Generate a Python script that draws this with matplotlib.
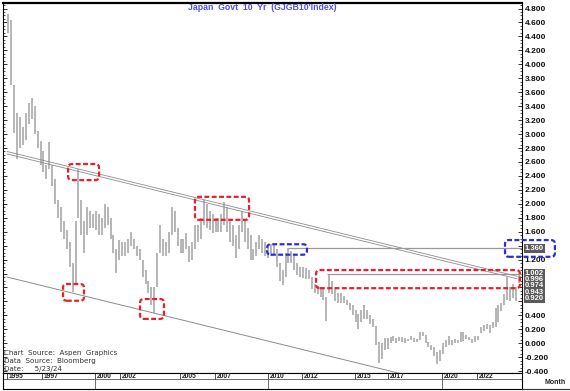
import numpy as np
import matplotlib
matplotlib.use("Agg")
import matplotlib.pyplot as plt
import matplotlib.transforms as mtransforms
from matplotlib.patches import FancyBboxPatch
from matplotlib.lines import Line2D
from matplotlib.ticker import MultipleLocator, FuncFormatter

plt.rcParams['font.family'] = ['Liberation Sans', 'DejaVu Sans']

# Japan 10y yield, bi-monthly bars (Jan-Feb, Mar-Apr, May-Jun, Jul-Aug, Sep-Oct, Nov-Dec)
first_year = 1995
highs = [
    4.72, 4.64, 3.70, 3.30, 3.25, 3.10,   # 1995
    3.30, 3.45, 3.52, 3.40, 3.05, 2.90,   # 1996
    2.75, 2.55, 2.88, 2.55, 2.35, 2.05,   # 1997
    1.95, 1.75, 1.62, 1.45, 1.15, 1.75,   # 1998
    2.50, 2.05, 1.75, 1.95, 1.90, 1.85,   # 1999
    1.90, 1.85, 1.80, 1.99, 1.95, 1.80,   # 2000
    1.55, 1.35, 1.48, 1.45, 1.45, 1.50,   # 2001
    1.59, 1.50, 1.40, 1.35, 1.20, 1.05,   # 2002
    0.90, 0.80, 0.80, 1.30, 1.70, 1.50,   # 2003
    1.45, 1.60, 1.96, 1.90, 1.65, 1.50,   # 2004
    1.50, 1.58, 1.40, 1.45, 1.70, 1.70,   # 2005
    1.80, 2.06, 2.00, 1.90, 1.85, 1.80,   # 2006
    1.80, 1.85, 2.02, 1.95, 1.75, 1.70,   # 2007
    1.55, 1.70, 1.90, 1.75, 1.65, 1.55,   # 2008
    1.35, 1.45, 1.55, 1.50, 1.45, 1.40,   # 2009
    1.42, 1.43, 1.35, 1.15, 1.05, 1.30,   # 2010
    1.37, 1.33, 1.25, 1.15, 1.10, 1.10,   # 2011
    1.08, 1.05, 0.95, 0.85, 0.82, 0.80,   # 2012
    0.80, 0.66, 1.00, 0.90, 0.78, 0.72,   # 2013
    0.72, 0.68, 0.62, 0.58, 0.55, 0.48,   # 2014
    0.42, 0.48, 0.55, 0.48, 0.40, 0.35,   # 2015
    0.25, 0.02, 0.00, 0.08, 0.07, 0.09,   # 2016
    0.10, 0.08, 0.09, 0.09, 0.07, 0.06,   # 2017
    0.10, 0.07, 0.06, 0.16, 0.16, 0.12,   # 2018
    0.02, -0.02, -0.05, -0.12, -0.10, 0.00,   # 2019
    0.05, 0.10, 0.05, 0.06, 0.05, 0.16,   # 2020
    0.16, 0.12, 0.09, 0.06, 0.10, 0.10,   # 2021
    0.24, 0.26, 0.27, 0.26, 0.30, 0.50,   # 2022
    0.55, 0.58, 0.70, 0.95, 0.80, 0.85,   # 2023
    0.80, 1.00,                           # 2024
]
lows = [
    4.45, 3.70, 3.02, 2.64, 2.80, 2.85,   # 1995
    2.92, 3.15, 3.22, 3.00, 2.80, 2.55,   # 1996
    2.45, 2.35, 2.50, 2.25, 2.00, 1.80,   # 1997
    1.60, 1.50, 1.35, 1.10, 0.73, 0.85,   # 1998
    1.80, 1.55, 1.30, 1.55, 1.65, 1.65,   # 1999
    1.62, 1.55, 1.55, 1.65, 1.70, 1.50,   # 2000
    1.30, 1.01, 1.20, 1.25, 1.25, 1.30,   # 2001
    1.40, 1.35, 1.25, 1.20, 0.95, 0.85,   # 2002
    0.72, 0.55, 0.43, 0.80, 1.30, 1.25,   # 2003
    1.25, 1.30, 1.55, 1.60, 1.40, 1.30,   # 2004
    1.30, 1.35, 1.17, 1.20, 1.35, 1.45,   # 2005
    1.50, 1.70, 1.65, 1.62, 1.58, 1.60,   # 2006
    1.60, 1.60, 1.70, 1.60, 1.45, 1.40,   # 2007
    1.23, 1.35, 1.60, 1.45, 1.35, 1.20,   # 2008
    1.20, 1.25, 1.35, 1.30, 1.25, 1.22,   # 2009
    1.25, 1.28, 1.10, 0.90, 0.83, 0.95,   # 2010
    1.15, 1.15, 1.05, 0.98, 0.95, 0.93,   # 2011
    0.92, 0.92, 0.78, 0.72, 0.70, 0.66,   # 2012
    0.62, 0.32, 0.72, 0.70, 0.60, 0.58,   # 2013
    0.58, 0.58, 0.55, 0.48, 0.40, 0.30,   # 2014
    0.20, 0.30, 0.35, 0.35, 0.28, 0.24,   # 2015
    -0.02, -0.28, -0.22, -0.10, -0.08, 0.00,  # 2016
    0.03, 0.00, 0.03, 0.02, 0.01, 0.03,   # 2017
    0.04, 0.02, 0.02, 0.05, 0.10, 0.00,   # 2018
    -0.05, -0.10, -0.18, -0.29, -0.25, -0.15,  # 2019
    -0.05, -0.03, -0.02, 0.00, 0.00, 0.02,  # 2020
    0.03, 0.06, 0.04, 0.00, 0.02, 0.05,   # 2021
    0.15, 0.17, 0.20, 0.15, 0.22, 0.24,   # 2022
    0.30, 0.46, 0.55, 0.62, 0.60, 0.65,   # 2023
    0.60, 0.86,                           # 2024
]

# year labels of the date strip (Aspen puts them a bit irregularly)
year_labels = ['1995', '1997', '2000', '2002', '2005', '2007',
               '2010', '2012', '2015', '2017', '2020', '2022']
year_label_pos = [1995.0, 1997.0, 2000.03, 2001.46, 2004.89, 2006.89,
                  2009.91, 2011.86, 2014.89, 2016.77, 2019.86, 2021.86]
decade_pos = [2000.03, 2009.91, 2019.86]

# trendlines (year, yield)
upper_trend = [(1995.0, 2.75), (2024.15, 0.96)]
lower_trend = [(1995.0, 0.95), (2024.4, -0.86)]
level_lines = [(2011.06, 1.36), (2013.3, 0.995)]   # (start, level)

# highlighted areas (x0, x1, y0, y1)
red_boxes = [(1998.2, 1999.4, 0.61, 0.85),
             (1998.49, 2000.26, 2.34, 2.57),
             (2002.6, 2003.97, 0.35, 0.635),
             (2005.74, 2008.83, 1.77, 2.10),
             (2012.66, 2024.31, 0.79, 1.05)]
blue_boxes = [(2009.86, 2012.14, 1.27, 1.42),
              (2023.46, 2026.31, 1.24, 1.48)]

last_labels = ['1.002', '0.996', '0.974', '0.943', '0.920']
blue_label = '1.360'
hidden_ticks = [1.4, 1.0, 0.8, 0.6]

# ---------------------------------------------------------------
W, H = 570, 391
fig = plt.figure(figsize=(W / 100, H / 100), dpi=100)


def fx(px):
    return px / W


def fy(py):
    return 1 - py / H


ax = fig.add_axes([fx(3), fy(373), fx(522) - fx(3), fy(3) - fy(373)])
ax.set_xlim(1994.77, 2024.43)
ax.set_ylim(-0.426, 4.879)

t = first_year + (np.arange(len(highs)) + 0.5) / 6.0
ax.vlines(t, lows, highs, color='#b0b0b0', lw=1.3, zorder=2)

# trendlines
(x0, y0), (x1, y1) = upper_trend
ax.plot([x0, x1], [y0, y1], color='#8c8c8c', lw=0.6, zorder=3)
ax.plot([x0, x1], [y0 - 0.035, y1 - 0.035], color='#8c8c8c', lw=0.6, zorder=3)
(x0, y0), (x1, y1) = lower_trend
ax.plot([x0, x1], [y0, y1], color='#8c8c8c', lw=0.7, zorder=3)
for start, lvl in level_lines:
    ax.hlines(lvl, start, 2024.43, color='#9a9a9a', lw=0.9, zorder=3)

# dashed rounded boxes
asp = 17.5 / 69.75
for boxes, col in [(red_boxes, '#e8202a'), (blue_boxes, '#2b2be6')]:
    for bx0, bx1, by0, by1 in boxes:
        p = FancyBboxPatch((bx0, by0), bx1 - bx0, by1 - by0,
                           boxstyle="round,pad=0,rounding_size=0.22",
                           mutation_aspect=asp, fill=False, ec=col, lw=1.6,
                           ls=(0, (2.2, 1.1)), zorder=6, clip_on=False)
        ax.add_patch(p)

# y axis on the right
ax.yaxis.set_major_locator(MultipleLocator(0.2))
ax.yaxis.set_minor_locator(MultipleLocator(0.05))


def fmt(v, pos):
    if any(abs(v - h) < 1e-6 for h in hidden_ticks):
        return ''
    return '%.3f' % v


ax.yaxis.set_major_formatter(FuncFormatter(fmt))
ax.tick_params(axis='y', which='both', left=True, right=True, labelleft=False,
               labelright=True, direction='in', pad=2, labelsize=6, colors='#111111')
ax.tick_params(axis='y', which='major', length=3, width=0.6)
ax.tick_params(axis='y', which='minor', length=1.5, width=0.5)
for lab in ax.get_yticklabels():
    lab.set_fontweight('bold')
ax.set_xticks([])
for s in ['left', 'right', 'bottom']:
    ax.spines[s].set_linewidth(0.8)
ax.spines['top'].set_linewidth(1.6)

# price labels
bt = mtransforms.blended_transform_factory(ax.transAxes, ax.transData)
for i, s in enumerate(last_labels):
    ax.annotate(s, xy=(1.0, float(last_labels[0])), xycoords=bt,
                xytext=(2, -i * 4.5), textcoords='offset points',
                ha='left', va='center', fontsize=5.5, fontweight='bold', color='white',
                bbox=dict(boxstyle='square,pad=0.12', fc='#5a5a5a', ec='none'),
                annotation_clip=False, zorder=5)
ax.annotate(blue_label, xy=(1.0, 1.36), xycoords=bt, xytext=(2, 0),
            textcoords='offset points', ha='left', va='center', fontsize=5.5,
            fontweight='bold', color='white',
            bbox=dict(boxstyle='square,pad=0.12', fc='#5a5a5a', ec='none'),
            annotation_clip=False, zorder=5)

# title and sources
fig.text(fx(262), fy(8), "Japan  Govt  10  Yr  (GJGB10'Index)", ha='center', va='center',
         fontsize=6.3, fontweight='bold', color='#5050e8')
for txt, py in [("Chart  Source:  Aspen  Graphics", 352.5),
                ("Data  Source:  Bloomberg", 360.7),
                ("Date:     5/23/24", 368.9)]:
    fig.text(fx(4), fy(py), txt, ha='left', va='center', fontsize=5.1,
             color='#333333', family='DejaVu Sans')

# date strip
sx = fig.add_axes([fx(3), fy(389), fx(522) - fx(3), fy(373) - fy(389)], sharex=ax)
sx.set_ylim(0, 1)
sx.set_xlim(1994.77, 2024.43)
sx.axhline(0.62, color='#555555', lw=0.6)
sx.vlines(year_label_pos, 0.62, 1.0, color='#333333', lw=0.6)
sx.vlines(decade_pos, 0.0, 0.62, color='#555555', lw=0.6)
for lab, pos in zip(year_labels, year_label_pos):
    sx.text(pos + 0.12, 0.81, lab, ha='left', va='center', fontsize=4.8,
            fontweight='bold', color='#222222')
sx.set_xticks([])
sx.set_yticks([])
for s in sx.spines.values():
    s.set_linewidth(0.8)
fig.add_artist(Line2D([fx(522), 1.0], [fy(389), fy(389)], color='#333333', lw=0.8))
fig.text(fx(555), fy(383), 'Month', ha='center', va='center', fontsize=5,
         fontweight='bold', color='#222222')

fig.savefig('out.png', dpi=100)
